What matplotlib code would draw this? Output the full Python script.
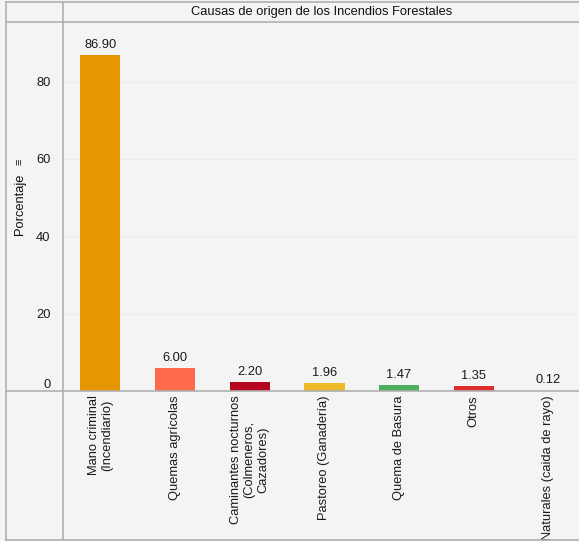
import matplotlib
matplotlib.use("Agg")
import matplotlib.pyplot as plt
from matplotlib.lines import Line2D

categories = ["Mano criminal\n(Incendiario)", "Quemas agrícolas",
              "Caminantes nocturnos\n(Colmeneros,\nCazadores)", "Pastoreo (Ganadería)",
              "Quema de Basura", "Otros", "Naturales (caida de rayo)"]
values = [86.90, 6.00, 2.20, 1.96, 1.47, 1.35, 0.12]
value_labels = ["86.90", "6.00", "2.20", "1.96", "1.47", "1.35", "0.12"]
colors = ["#E59600", "#FF6A4D", "#B5081F", "#EFBA29", "#4DAE5C", "#DF2F2D", "#3A75C4"]
yticks = [0, 20, 40, 60, 80]
title = "Causas de origen de los Incendios Forestales"
ylabel = "Porcentaje"

plt.rcParams['font.family'] = ['Liberation Sans', 'DejaVu Sans']
W, H = 579, 541
fig = plt.figure(figsize=(W / 100, H / 100), dpi=100)
bg = "#f4f4f4"
fig.patch.set_facecolor(bg)
fs = 9.3

def fx(px):
    return px / W

def fy(py):
    return 1 - py / H

ax = fig.add_axes([fx(63), fy(391), fx(579) - fx(63), fy(22) - fy(391)])
ax.set_facecolor(bg)
x = list(range(len(categories)))
ax.bar(x, values, width=0.54, color=colors, zorder=3)
ax.set_xlim(-0.5, 6.41)
ax.set_ylim(0, 95.4)
for s in ax.spines.values():
    s.set_visible(False)
ax.set_yticks(yticks)
ax.set_yticklabels([str(t) for t in yticks], fontsize=fs, color="#1a1a1a")
ax.tick_params(axis='y', length=0, pad=9)
ax.tick_params(axis='x', length=0, pad=3)
ax.set_xticks(x)
ax.set_xticklabels(categories, rotation=90, fontsize=fs, color="#1a1a1a",
                   va='top', ha='center', multialignment='center', linespacing=1.15)
ax.get_yticklabels()[0].set_va('bottom')
ax.yaxis.grid(True, color="#ebebeb", linewidth=0.8, zorder=0)
for xi, v, lab in zip(x, values, value_labels):
    ax.annotate(lab, (xi, v), xytext=(0, 3), textcoords='offset points',
                ha='center', va='bottom', fontsize=fs, color="#1a1a1a")

fig.text(fx(20), fy(204), ylabel, rotation=90, ha='center', va='center',
         fontsize=fs, color="#111111")
fig.text(fx(20), fy(162), "≡", rotation=90, ha='center', va='center', fontsize=8, color="#222222")

fig.text(fx(322), fy(12), title, ha='center', va='center', fontsize=fs, color="#111111")

lc = "#b0b0b0"
lines = [
    ((6, 579), (2, 2)),
    ((6, 579), (22, 22)),
    ((6, 579), (391, 391)),
    ((6, 579), (540, 540)),
    ((6, 6), (2, 540)),
    ((63, 63), (2, 540)),
]
for (xs, ys) in lines:
    fig.add_artist(Line2D([fx(xs[0]), fx(xs[1])], [fy(ys[0]), fy(ys[1])],
                          color=lc, linewidth=1.2, transform=fig.transFigure))

fig.savefig("out.png", dpi=100, facecolor=bg)
